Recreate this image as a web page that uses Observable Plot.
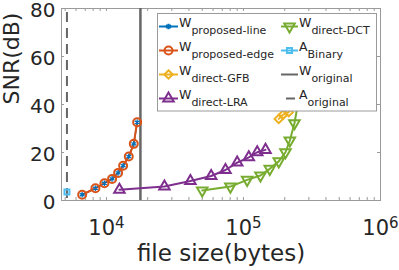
<!DOCTYPE html>
<html>
<head>
<meta charset="utf-8">
<script src="https://cdn.jsdelivr.net/npm/d3@7"></script>
<script src="https://cdn.jsdelivr.net/npm/@observablehq/plot@0.6"></script>
<style>
  html, body { margin: 0; padding: 0; background: #fff; }
  #chart { width: 399px; height: 270px; }
</style>
</head>
<body>
<div id="chart"></div>
<script>
// ---- data ----
const xTicks = [1e4, 1e5, 1e6];
const yTicks = [0, 20, 40, 60, 80];

const lineX = [6650, 8310, 9670, 11000, 12170, 13240, 14550, 15830, 16750];
const lineY = [2.4, 5.1, 7.2, 9.0, 11.5, 14.5, 18.3, 23.6, 32.6];

const edgeX = [6650, 8310, 9670, 11000, 12170, 13240, 14550, 15830, 16750];
const edgeY = [2.4, 5.1, 7.2, 9.0, 11.5, 14.5, 18.3, 23.6, 32.6];

const gfbX = [181000, 195000, 214000, 235000];
const gfbY = [34.0, 35.8, 36.8, 42];

const lraX = [12440, 26500, 41000, 58100, 73900, 90000, 109400, 126000, 144800];
const lraY = [4.5, 5.8, 8.1, 10.2, 12.7, 15.8, 18.0, 20.1, 21.1];

const dctX = [50000, 80300, 106400, 133000, 155600, 181000, 202600, 218000, 235600, 260000];
const dctY = [4.2, 5.8, 8.6, 10.4, 13.2, 16.3, 20.1, 25.0, 32.2, 46];

const binaryX = [5150];
const binaryY = [3.5];

const wOriginalX = [17700];
const aOriginalX = [5150];

const legendMain = ["W", "W", "W", "W", "W", "A", "W", "A"];
const legendSub = ["proposed-line", "proposed-edge", "direct-GFB", "direct-LRA",
                   "direct-DCT", "Binary", "original", "original"];

// ---- colours ----
const C = {
  blue: "#0072BD", orange: "#D95319", yellow: "#EDB120", purple: "#7E2F8E",
  green: "#77AC30", cyan: "#4DBEEE", gray: "#666666", axis: "#9a9a9a"
};

const rows = (xs, ys) => xs.map((x, i) => ({x, y: ys[i]}));
const lineData = rows(lineX, lineY);
const edgeData = rows(edgeX, edgeY);
const gfbData = rows(gfbX, gfbY);
const lraData = rows(lraX, lraY);
const dctData = rows(dctX, dctY);
const binData = rows(binaryX, binaryY);

const xDomain = [4700, 1e6];
const minorTicks = [];
for (let e = 3; e < 6; e++) for (let m = 1; m < 10; m++) {
  const v = m * 10 ** e;
  if (v >= xDomain[0] && v <= xDomain[1]) minorTicks.push(v);
}
minorTicks.push(1e6);

const svg = Plot.plot({
  width: 399, height: 270,
  marginLeft: 61, marginRight: 19, marginTop: 8, marginBottom: 70,
  style: {fontFamily: "DejaVu Sans", color: "#262626", background: "#fff", overflow: "visible"},
  x: {type: "log", domain: xDomain},
  y: {domain: [0, 80]},
  marks: [
    Plot.frame({stroke: C.axis}),
    Plot.tickX(minorTicks, {x: d => d, stroke: C.axis, insetTop: 189}),
    Plot.tickX(minorTicks, {x: d => d, stroke: C.axis, insetBottom: 189}),
    Plot.tickY(yTicks, {y: d => d, stroke: C.axis, insetRight: 316}),
    Plot.tickY(yTicks, {y: d => d, stroke: C.axis, insetLeft: 316}),
    Plot.axisX({ticks: xTicks, tickSize: 0, tickPadding: 20, fontSize: 21, label: null,
                tickFormat: d => "10^" + Math.round(Math.log10(d))}),
    Plot.axisY({ticks: yTicks, tickSize: 0, tickPadding: 6, fontSize: 20, label: null, dy: 2}),
    Plot.text(["SNR(dB)"], {frameAnchor: "left", dx: -50, rotate: -90, text: d => d, fontSize: 22, fill: "#262626"}),
    Plot.text(["file size(bytes)"], {frameAnchor: "bottom", dy: 60, text: d => d, fontSize: 23, fill: "#262626"}),
    Plot.ruleX(wOriginalX, {x: d => d, stroke: C.gray, strokeWidth: 2.5}),
    Plot.ruleX(aOriginalX, {x: d => d, stroke: C.gray, strokeWidth: 2, strokeDasharray: "10,6", strokeDashoffset: -4}),
    Plot.line(lineData, {x: "x", y: "y", stroke: C.blue, strokeWidth: 1.5}),
    Plot.line(dctData, {x: "x", y: "y", stroke: C.green, strokeWidth: 2}),
    Plot.dot(dctData, {x: "x", y: "y", symbol: "triangle", rotate: 180, r: 3.9, stroke: C.green, strokeWidth: 2, fill: "none"}),
    Plot.line(gfbData, {x: "x", y: "y", stroke: C.yellow, strokeWidth: 2}),
    Plot.dot(gfbData, {x: "x", y: "y", symbol: "diamond2", r: 3.8, stroke: C.yellow, strokeWidth: 2, fill: "none"}),
    Plot.line(lraData, {x: "x", y: "y", stroke: C.purple, strokeWidth: 2}),
    Plot.dot(lraData, {x: "x", y: "y", symbol: "triangle", r: 3.9, stroke: C.purple, strokeWidth: 2, fill: "none"}),
    Plot.line(edgeData, {x: "x", y: "y", stroke: C.orange, strokeWidth: 2}),
    Plot.dot(edgeData, {x: "x", y: "y", symbol: "circle", r: 4, stroke: C.orange, strokeWidth: 2, fill: "none"}),
    Plot.dot(lineData, {x: "x", y: "y", symbol: "asterisk", r: 2.6, stroke: C.blue, strokeWidth: 1.3}),
    Plot.dot(binData, {x: "x", y: "y", symbol: "square", r: 2.8, stroke: C.cyan, strokeWidth: 2, fill: "none"})
  ]
});

// superscript exponents on the log tick labels
svg.querySelectorAll("text").forEach(t => {
  const s = t.textContent;
  if (s.includes("^")) {
    const [b, e] = s.split("^");
    t.textContent = "";
    const ns = "http://www.w3.org/2000/svg";
    const t1 = document.createElementNS(ns, "tspan"); t1.textContent = b;
    const t2 = document.createElementNS(ns, "tspan"); t2.textContent = e;
    t2.setAttribute("dy", "-7"); t2.setAttribute("font-size", "15");
    t.appendChild(t1); t.appendChild(t2);
  }
});

// legend (inside the plot, top right)
const symbols = [
  {color: C.blue, sym: d3.symbolAsterisk, size: 22, rot: 0, dash: null},
  {color: C.orange, sym: d3.symbolCircle, size: 50, rot: 0, dash: null},
  {color: C.yellow, sym: d3.symbolDiamond2, size: 45, rot: 0, dash: null},
  {color: C.purple, sym: d3.symbolTriangle, size: 48, rot: 0, dash: null},
  {color: C.green, sym: d3.symbolTriangle, size: 48, rot: 180, dash: null},
  {color: C.cyan, sym: d3.symbolSquare, size: 26, rot: 0, dash: null},
  {color: C.gray, sym: null, rot: 0, dash: null},
  {color: C.gray, sym: null, rot: 0, dash: "short"}
];
const g = d3.select(svg).append("g").attr("font-family", "DejaVu Sans").attr("fill", "#262626")
  .attr("text-anchor", "start").style("text-anchor", "start");
g.append("rect").attr("x", 157.5).attr("y", 13.5).attr("width", 219).attr("height", 97.5)
  .attr("fill", "#fff").attr("stroke", C.axis).attr("stroke-width", 1);
legendMain.forEach((m, i) => {
  const col = i < 4 ? 0 : 1;
  const row = i % 4;
  const x0 = col === 0 ? 159 : 281;
  const x1 = col === 0 ? 178 : 298;
  const cy = 26.5 + row * 24;
  const sp = symbols[i];
  if (sp.dash === "short") {
    g.append("line").attr("x1", 286).attr("x2", 295).attr("y1", cy).attr("y2", cy)
      .attr("stroke", sp.color).attr("stroke-width", 2);
  } else {
    g.append("line").attr("x1", x0).attr("x2", x1).attr("y1", cy).attr("y2", cy)
      .attr("stroke", sp.color).attr("stroke-width", 2);
  }
  if (sp.sym) {
    g.append("path").attr("d", d3.symbol(sp.sym, sp.size)())
      .attr("transform", `translate(${(x0 + x1) / 2},${cy}) rotate(${sp.rot})`)
      .attr("fill", "none").attr("stroke", sp.color).attr("stroke-width", 2);
  }
  const t = g.append("text").attr("x", x1 + 1).attr("y", cy + 0.5).attr("font-size", 12.5)
    .style("text-anchor", "start");
  t.append("tspan").text(m);
  t.append("tspan").attr("dy", 7).attr("font-size", 11).text(legendSub[i]);
});

document.getElementById("chart").appendChild(svg);
</script>
</body>
</html>
